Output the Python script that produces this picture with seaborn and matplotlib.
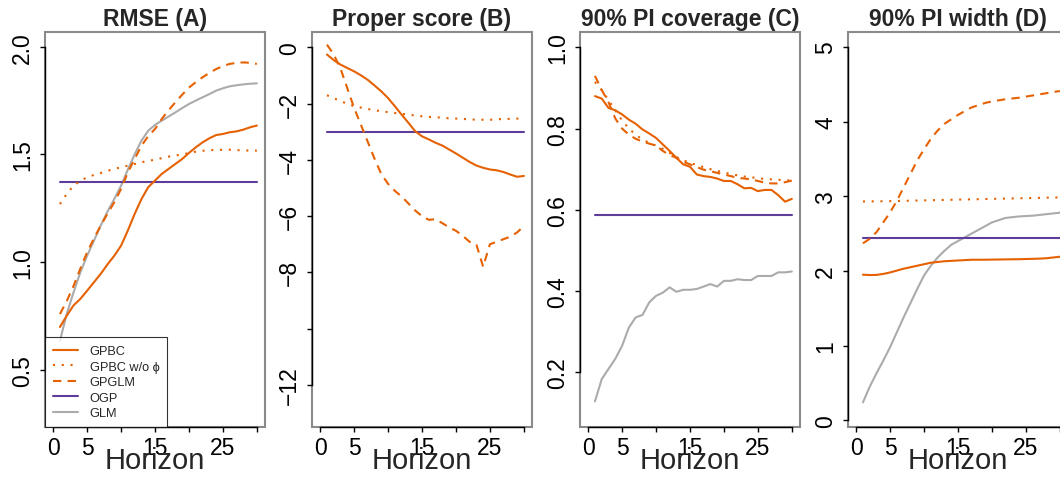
import numpy as np
import matplotlib
matplotlib.use("Agg")
import matplotlib.pyplot as plt
import seaborn as sns

sns.set_style("white")
plt.rcParams["font.family"] = ["Liberation Sans", "DejaVu Sans"]

horizon = list(range(1, 31))

# Panel A: RMSE
rmse_gpbc = [0.70, 0.752, 0.80, 0.83, 0.868, 0.907, 0.946, 0.99, 1.03, 1.077,
             1.147, 1.224, 1.293, 1.348, 1.379, 1.41, 1.433, 1.456, 1.479, 1.507,
             1.533, 1.556, 1.575, 1.59, 1.595, 1.603, 1.607, 1.615, 1.626, 1.634]
rmse_gpbc_nophi = [1.27, 1.317, 1.355, 1.378, 1.394, 1.405, 1.414, 1.424, 1.433, 1.441,
                   1.448, 1.456, 1.464, 1.47, 1.476, 1.483, 1.49, 1.495, 1.50, 1.507,
                   1.513, 1.517, 1.52, 1.521, 1.522, 1.522, 1.52, 1.519, 1.518, 1.518]
rmse_gpglm = [0.76, 0.82, 0.89, 0.97, 1.046, 1.11, 1.17, 1.225, 1.278, 1.34,
              1.417, 1.479, 1.54, 1.585, 1.618, 1.665, 1.705, 1.742, 1.777, 1.81,
              1.835, 1.858, 1.878, 1.896, 1.91, 1.92, 1.925, 1.927, 1.925, 1.92]
rmse_ogp = 1.374
rmse_glm = [0.636, 0.76, 0.86, 0.953, 1.03, 1.10, 1.17, 1.235, 1.293, 1.355,
            1.43, 1.50, 1.564, 1.61, 1.637, 1.657, 1.676, 1.695, 1.715, 1.734,
            1.75, 1.765, 1.78, 1.796, 1.807, 1.816, 1.821, 1.825, 1.828, 1.83]

# Panel B: proper score
ps_gpbc = [-0.25, -0.45, -0.61, -0.73, -0.85, -0.99, -1.15, -1.35, -1.56, -1.8,
           -2.09, -2.39, -2.68, -2.98, -3.16, -3.27, -3.39, -3.49, -3.63, -3.77,
           -3.92, -4.07, -4.2, -4.28, -4.34, -4.37, -4.43, -4.52, -4.6, -4.57]
ps_gpbc_nophi = [-1.7, -1.8, -1.91, -2.0, -2.09, -2.14, -2.19, -2.23, -2.27, -2.3,
                 -2.33, -2.36, -2.39, -2.42, -2.45, -2.47, -2.48, -2.5, -2.52, -2.53,
                 -2.54, -2.56, -2.57, -2.57, -2.57, -2.56, -2.54, -2.54, -2.53, -2.53]
ps_gpglm = [0.1, -0.25, -0.75, -1.45, -2.15, -2.75, -3.35, -3.95, -4.5, -4.85,
            -5.1, -5.3, -5.55, -5.8, -6.0, -6.13, -6.11, -6.25, -6.4, -6.52,
            -6.7, -6.91, -7.0, -7.8, -7.0, -6.91, -6.82, -6.73, -6.58, -6.35]
ps_ogp = -3.0

# Panel C: 90% PI coverage
cov_gpbc = [0.88, 0.874, 0.851, 0.845, 0.835, 0.822, 0.812, 0.798, 0.788, 0.777,
            0.761, 0.745, 0.728, 0.712, 0.706, 0.687, 0.683, 0.681, 0.677, 0.671,
            0.671, 0.663, 0.653, 0.654, 0.646, 0.649, 0.649, 0.636, 0.620, 0.627]
cov_gpbc_nophi = [0.915, 0.895, 0.87, 0.845, 0.82, 0.80, 0.785, 0.773, 0.765, 0.758,
                  0.75, 0.74, 0.73, 0.722, 0.716, 0.71, 0.705, 0.70, 0.696, 0.692,
                  0.688, 0.685, 0.682, 0.68, 0.678, 0.676, 0.675, 0.674, 0.673, 0.672]
cov_gpglm = [0.93, 0.895, 0.865, 0.825, 0.80, 0.785, 0.775, 0.768, 0.763, 0.758,
             0.745, 0.735, 0.728, 0.718, 0.712, 0.705, 0.699, 0.695, 0.691, 0.687,
             0.683, 0.679, 0.677, 0.675, 0.671, 0.667, 0.665, 0.665, 0.668, 0.672]
cov_ogp = 0.586
cov_glm = [0.128, 0.183, 0.208, 0.233, 0.265, 0.31, 0.335, 0.341, 0.372, 0.388,
           0.396, 0.409, 0.398, 0.403, 0.403, 0.405, 0.411, 0.417, 0.411, 0.425,
           0.425, 0.429, 0.427, 0.427, 0.437, 0.437, 0.437, 0.446, 0.446, 0.448]

# Panel D: 90% PI width
wid_gpbc = [1.95, 1.945, 1.947, 1.96, 1.98, 2.005, 2.03, 2.05, 2.07, 2.09,
            2.11, 2.12, 2.13, 2.135, 2.14, 2.145, 2.15, 2.15, 2.15, 2.152,
            2.153, 2.155, 2.156, 2.157, 2.16, 2.162, 2.165, 2.17, 2.18, 2.19]
wid_gpbc_nophi = [2.93, 2.931, 2.932, 2.933, 2.935, 2.937, 2.939, 2.941, 2.943, 2.945,
                  2.947, 2.949, 2.951, 2.953, 2.955, 2.957, 2.959, 2.961, 2.963, 2.965,
                  2.967, 2.969, 2.971, 2.973, 2.975, 2.977, 2.979, 2.981, 2.983, 2.985]
wid_gpglm = [2.37, 2.43, 2.52, 2.65, 2.785, 2.94, 3.12, 3.30, 3.48, 3.63,
             3.77, 3.88, 3.97, 4.03, 4.09, 4.14, 4.19, 4.22, 4.25, 4.27,
             4.285, 4.30, 4.31, 4.32, 4.335, 4.35, 4.365, 4.38, 4.395, 4.41]
wid_ogp = 2.447
wid_glm = [0.24, 0.45, 0.63, 0.80, 0.98, 1.18, 1.38, 1.57, 1.76, 1.94,
           2.07, 2.18, 2.27, 2.35, 2.40, 2.45, 2.50, 2.55, 2.60, 2.65,
           2.68, 2.71, 2.72, 2.73, 2.735, 2.74, 2.75, 2.76, 2.77, 2.78]

titles = ["RMSE (A)", "Proper score (B)", "90% PI coverage (C)", "90% PI width (D)"]
legend_labels = ["GPBC", "GPBC w/o \u03d5", "GPGLM", "OGP", "GLM"]
xticks = [0, 5, 10, 15, 20, 25, 30]
xtick_labels = ["0", "5", "", "15", "", "25", ""]
yticks = [[0.5, 1.0, 1.5, 2.0],
          [0, -2, -4, -6, -8, -10, -12],
          [0.2, 0.4, 0.6, 0.8, 1.0],
          [0, 1, 2, 3, 4, 5]]
ytick_labels = [["0.5", "1.0", "1.5", "2.0"],
                ["0", "\u22122", "\u22124", "\u22126", "\u22128", "", "\u221212"],
                ["0.2", "0.4", "0.6", "0.8", "1.0"],
                ["0", "1", "2", "3", "4", "5"]]
ylims = [(0.236, 2.068), (-13.5, 0.55), (0.065, 1.038), (-0.09, 5.2)]

ORANGE = "#E66101"
PURPLE = "#5E3C99"
GRAY = "#ABABAB"
LW = 1.5
styles = [
    dict(color=ORANGE, linestyle="-"),
    dict(color=ORANGE, linestyle=(0, (1, 3.2))),
    dict(color=ORANGE, linestyle=(0, (4, 3))),
    dict(color=PURPLE, linestyle="-"),
    dict(color=GRAY, linestyle="-"),
]

panels = [
    [rmse_gpbc, rmse_gpbc_nophi, rmse_gpglm, [rmse_ogp] * len(horizon), rmse_glm],
    [ps_gpbc, ps_gpbc_nophi, ps_gpglm, [ps_ogp] * len(horizon), None],
    [cov_gpbc, cov_gpbc_nophi, cov_gpglm, [cov_ogp] * len(horizon), cov_glm],
    [wid_gpbc, wid_gpbc_nophi, wid_gpglm, [wid_ogp] * len(horizon), wid_glm],
]

W, H = 1060, 481
fig = plt.figure(figsize=(W / 100, H / 100), dpi=100)
lefts = [45, 312, 580, 848]
ax_w, ax_top, ax_bot = 220, 33, 428

for i, series in enumerate(panels):
    ax = fig.add_axes([lefts[i] / W, 1 - ax_bot / H, ax_w / W, (ax_bot - ax_top) / H])
    ax.set_facecolor("white")
    draw_order = [4, 3, 0, 1, 2]
    for k in draw_order:
        vals = series[k]
        if vals is None:
            continue
        sns.lineplot(x=horizon, y=vals, ax=ax, lw=LW, label=legend_labels[k] if i == 0 else None,
                     legend=False, **styles[k])
    ax.set_xlim(-1.2, 31.2)
    ax.set_ylim(*ylims[i])
    ax.set_xticks(xticks)
    ax.set_xticklabels(xtick_labels)
    ax.set_yticks(yticks[i])
    ax.set_yticklabels(ytick_labels[i])
    ax.tick_params(axis="both", which="major", bottom=True, left=True, top=False, right=False,
                   direction="out", length=3.8, width=1.0, color="black",
                   labelsize=16.5, labelcolor="black")
    ax.tick_params(axis="x", pad=2.5)
    ax.tick_params(axis="y", pad=4.0)
    for lab in ax.get_yticklabels():
        lab.set_rotation(90)
        lab.set_va("center")
        lab.set_ha("right")
    # gray box + black axis lines
    ax.patch.set_edgecolor("#8A8A8A")
    ax.patch.set_linewidth(1.5)
    for s in ["top", "right"]:
        ax.spines[s].set_visible(False)
    ax.spines["left"].set_color("black")
    ax.spines["bottom"].set_color("black")
    ax.spines["left"].set_linewidth(1.0)
    ax.spines["bottom"].set_linewidth(1.0)
    ax.spines["left"].set_bounds(min(yticks[i]), max(yticks[i]))
    ax.spines["bottom"].set_bounds(0, 30)
    ax.set_xlabel("Horizon", fontsize=21, va="top")
    ax.xaxis.set_label_coords(0.5, -0.049)
    ax.set_ylabel("")
    ax.set_title(titles[i], fontsize=16.5, fontweight="bold", pad=5)
    if i == 0:
        handles, labels = ax.get_legend_handles_labels()
        order = [labels.index(l) for l in legend_labels]
        leg = ax.legend([handles[j] for j in order], [labels[j] for j in order],
                        loc="lower left", borderaxespad=0, fontsize=9.2,
                        frameon=True, fancybox=False, edgecolor="black",
                        handlelength=2.0, handletextpad=0.9, labelspacing=0.28,
                        borderpad=0.6)
        leg.get_frame().set_linewidth(0.8)
        leg.set_zorder(5)

fig.savefig("out.png", dpi=100, facecolor="white")
